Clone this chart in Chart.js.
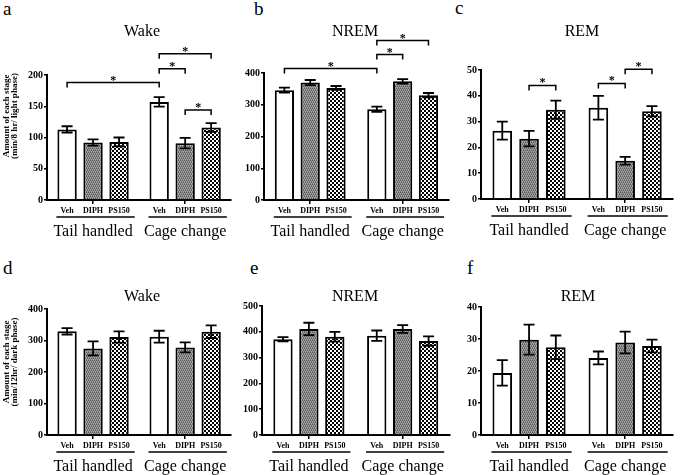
<!DOCTYPE html>
<html lang="en">
<head>
<meta charset="UTF-8">
<title>Sleep stages after DIPH / PS150</title>
<script src="https://cdn.jsdelivr.net/npm/chart.js"></script>
<style>
  body { margin: 0; background: #fff; }
  #wrap { position: relative; width: 685px; height: 475px; overflow: hidden; font-family: "Liberation Serif", "Times New Roman", serif; }
  canvas { position: absolute; }
  .letter { position: absolute; font-size: 19px; line-height: 19px; color: #000; }
</style>
</head>
<body>
<div id="wrap">
  <span class="letter" style="left:3px;top:-1px">a</span>
  <span class="letter" style="left:254px;top:-1px">b</span>
  <span class="letter" style="left:455px;top:-2px">c</span>
  <span class="letter" style="left:3px;top:258px">d</span>
  <span class="letter" style="left:250px;top:258px">e</span>
  <span class="letter" style="left:467px;top:258px">f</span>
  <canvas id="chartA" width="245" height="240" style="left:0;top:0"></canvas>
  <canvas id="chartB" width="230" height="240" style="left:232px;top:0"></canvas>
  <canvas id="chartC" width="233" height="240" style="left:452px;top:0"></canvas>
  <canvas id="chartD" width="245" height="235" style="left:0;top:240px"></canvas>
  <canvas id="chartE" width="230" height="235" style="left:232px;top:240px"></canvas>
  <canvas id="chartF" width="233" height="235" style="left:452px;top:240px"></canvas>
</div>
<script>
// groups on the x axis, treatments inside each group
const groups = ['Tail handled', 'Cage change'];
const treatments = ['Veh', 'DIPH', 'PS150'];

// values in order: TH Veh, TH DIPH, TH PS150, CC Veh, CC DIPH, CC PS150
const wakeLightMean = [113, 92, 93, 157, 91, 116];
const wakeLightSem = [5, 5, 7, 7.5, 8.5, 7];
const nremLightMean = [346, 370, 353, 286, 374, 330];
const nremLightSem = [8, 8, 6, 8, 7, 7];
const remLightMean = [26.5, 23.4, 34.6, 35.4, 14.8, 34];
const remLightSem = [3.5, 3, 3.5, 4.6, 1.5, 2];
const wakeDarkMean = [329, 275, 311, 312, 278, 328];
const wakeDarkSem = [10, 22, 18, 19, 16, 20];
const nremDarkMean = [371, 411, 381, 385, 411, 364];
const nremDarkSem = [8, 24, 19, 20, 15, 18];
const remDarkMean = [19.4, 29.8, 27.4, 24.1, 28.9, 27.8];
const remDarkSem = [4, 4.7, 3.7, 2, 3.4, 2];

// significance brackets: [bar from, bar to, height in axis units]
const wakeLightSig = [[0, 3, 188], [3, 4, 210], [3, 5, 234], [4, 5, 144]];
const nremLightSig = [[0, 3, 414], [3, 4, 458], [3, 5, 502]];
const remLightSig = [[1, 2, 44], [3, 4, 44.8], [4, 5, 50.3]];

// y tick labels
const wakeLightTicks = [0, 50, 100, 150, 200];
const nremLightTicks = [0, 100, 200, 300, 400];
const remLightTicks = [0, 10, 20, 30, 40, 50];
const wakeDarkTicks = [0, 100, 200, 300, 400];
const nremDarkTicks = [0, 100, 200, 300, 400, 500];
const remDarkTicks = [0, 10, 20, 30, 40];

const FONT = '"Liberation Serif", "Times New Roman", serif';

function makePattern(draw, size) {
    const c = document.createElement('canvas');
    c.width = size; c.height = size;
    draw(c.getContext('2d'));
    return c.getContext('2d').createPattern(c, 'repeat');
}

// fine grey texture for DIPH
const diphFill = makePattern(function(g) {
    const rows = [['#555', '#999', '#555', '#999'],
                  ['#aaa', '#777', '#aaa', '#777'],
                  ['#999', '#555', '#999', '#555'],
                  ['#777', '#aaa', '#777', '#aaa']];
    rows.forEach((r, y) => r.forEach((col, x) => { g.fillStyle = col; g.fillRect(x, y, 1, 1); }));
}, 4);

// black / white checks for PS150
const psFill = makePattern(function(g) {
    g.fillStyle = '#000'; g.fillRect(0, 0, 4, 4);
    g.fillStyle = '#fff'; g.fillRect(0, 0, 2, 2); g.fillRect(2, 2, 2, 2);
}, 4);

const fills = ['#ffffff', diphFill, psFill];

function annotations(p) {
    return {
        id: 'annot' + p.id,
        afterDraw(chart) {
            const ctx = chart.ctx;
            const y = chart.scales.y;
            const area = chart.chartArea;
            const bar = i => chart.getDatasetMeta(i % 3).data[Math.floor(i / 3)];
            ctx.save();
            ctx.strokeStyle = '#000';
            ctx.fillStyle = '#000';

            // error bars
            ctx.lineWidth = 1.8;
            for (let i = 0; i < 6; i++) {
                const x = bar(i).x;
                const top = y.getPixelForValue(p.mean[i] + p.sem[i]);
                const bot = y.getPixelForValue(p.mean[i] - p.sem[i]);
                ctx.beginPath();
                ctx.moveTo(x, top); ctx.lineTo(x, bot);
                ctx.moveTo(x - 5.5, top); ctx.lineTo(x + 5.5, top);
                ctx.moveTo(x - 5.5, bot); ctx.lineTo(x + 5.5, bot);
                ctx.stroke();
            }

            // significance brackets
            ctx.lineWidth = 1.5;
            ctx.textAlign = 'center';
            ctx.textBaseline = 'alphabetic';
            ctx.font = 'bold 12px ' + FONT;
            (p.sig || []).forEach(function(s) {
                const x1 = bar(s[0]).x, x2 = bar(s[1]).x;
                const yy = y.getPixelForValue(s[2]);
                ctx.beginPath();
                ctx.moveTo(x1, yy + 5); ctx.lineTo(x1, yy); ctx.lineTo(x2, yy); ctx.lineTo(x2, yy + 5);
                ctx.stroke();
                ctx.fillText('*', (x1 + x2) / 2, yy + 1);
            });

            // treatment labels and group underline
            ctx.font = 'bold 8px ' + FONT;
            ctx.textBaseline = 'middle';
            for (let i = 0; i < 6; i++) {
                ctx.fillText(treatments[i % 3], bar(i).x, area.bottom + 10.5);
            }
            ctx.lineWidth = 1.5;
            for (let g = 0; g < 2; g++) {
                const a = bar(g * 3), b = bar(g * 3 + 2);
                ctx.beginPath();
                ctx.moveTo(a.x - a.width / 2 - 1, area.bottom + 17);
                ctx.lineTo(b.x + b.width / 2 + 6, area.bottom + 17);
                ctx.stroke();
            }

            // panel title
            ctx.font = '16px ' + FONT;
            ctx.fillText(p.title, p.titleX - p.left, p.titleY - p.top);

            // y axis title (first column only)
            if (p.yTitle) {
                ctx.font = 'bold 9px ' + FONT;
                ctx.translate(6.5, p.yTitleY - p.top);
                ctx.rotate(-Math.PI / 2);
                ctx.fillText('Amount of each stage', 0, 0);
                ctx.fillText(p.yTitle, 0, 8.5);
            }
            ctx.restore();
        }
    };
}

function makePanel(p) {
    const yTicks = p.ticks;
    const spacing = p.spacing || 27.5;
    const catWidth = (p.area[2] - p.area[0]) / 2;
    return new Chart(document.getElementById(p.id), {
        type: 'bar',
        data: {
            labels: groups,
            datasets: treatments.map((t, d) => ({
                label: t,
                data: [p.mean[d], p.mean[d + 3]],
                backgroundColor: fills[d],
                borderColor: '#000',
                borderWidth: 2,
                categoryPercentage: spacing * 3 / catWidth,
                barPercentage: 20.5 / spacing
            }))
        },
        options: {
            responsive: false,
            animation: false,
            events: [],
            layout: {
                padding: {
                    left: 0,
                    top: p.area[1] - p.top,
                    right: p.left + p.w - p.area[2],
                    bottom: 0
                }
            },
            plugins: {
                legend: { display: false },
                tooltip: { enabled: false }
            },
            scales: {
                x: {
                    grid: { display: true, drawOnChartArea: false, drawTicks: true, tickLength: 4, offset: false, color: '#000', lineWidth: 1.5 },
                    border: { display: true, color: '#000', width: 2 },
                    ticks: { font: { family: FONT, size: 16 }, color: '#000', padding: 18, maxRotation: 0, autoSkip: false },
                    afterFit: s => { s.height = p.top + p.h - p.area[3]; }
                },
                y: {
                    min: 0,
                    max: yTicks[yTicks.length - 1],
                    afterBuildTicks: s => { s.ticks = yTicks.map(v => ({ value: v })); },
                    grid: { display: true, drawOnChartArea: false, drawTicks: true, tickLength: 3, color: '#000', lineWidth: 1.5 },
                    border: { display: true, color: '#000', width: 2 },
                    ticks: { font: { family: FONT, size: 10, weight: 'bold' }, color: '#000', padding: 1 },
                    afterFit: s => { s.width = p.area[0] - p.left; }
                }
            }
        },
        plugins: [annotations(p)]
    });
}

// area = [axis left, top (max tick), right end, axis bottom] in page pixels
makePanel({ id: 'chartA', left: 0, top: 0, w: 245, h: 240, area: [47, 75, 242, 200],
    mean: wakeLightMean, sem: wakeLightSem, sig: wakeLightSig, ticks: wakeLightTicks,
    title: 'Wake', titleX: 142, titleY: 32, yTitle: '(min/8 hr/ light phase)', yTitleY: 116 });
makePanel({ id: 'chartB', left: 232, top: 0, w: 230, h: 240, area: [264, 73, 461, 200],
    mean: nremLightMean, sem: nremLightSem, sig: nremLightSig, ticks: nremLightTicks,
    title: 'NREM', titleX: 355, titleY: 32 });
makePanel({ id: 'chartC', left: 452, top: 0, w: 233, h: 240, area: [481, 70, 682, 199], spacing: 28,
    mean: remLightMean, sem: remLightSem, sig: remLightSig, ticks: remLightTicks,
    title: 'REM', titleX: 582, titleY: 32 });
makePanel({ id: 'chartD', left: 0, top: 240, w: 245, h: 235, area: [47, 309, 242, 435],
    mean: wakeDarkMean, sem: wakeDarkSem, ticks: wakeDarkTicks,
    title: 'Wake', titleX: 142, titleY: 297, yTitle: '(min/12hr/ dark phase)', yTitleY: 362 });
makePanel({ id: 'chartE', left: 232, top: 240, w: 230, h: 235, area: [262, 306, 461, 435],
    mean: nremDarkMean, sem: nremDarkSem, ticks: nremDarkTicks,
    title: 'NREM', titleX: 355, titleY: 297 });
makePanel({ id: 'chartF', left: 452, top: 240, w: 233, h: 235, area: [481, 307, 682, 435], spacing: 28,
    mean: remDarkMean, sem: remDarkSem, ticks: remDarkTicks,
    title: 'REM', titleX: 578, titleY: 297 });
</script>
</body>
</html>
